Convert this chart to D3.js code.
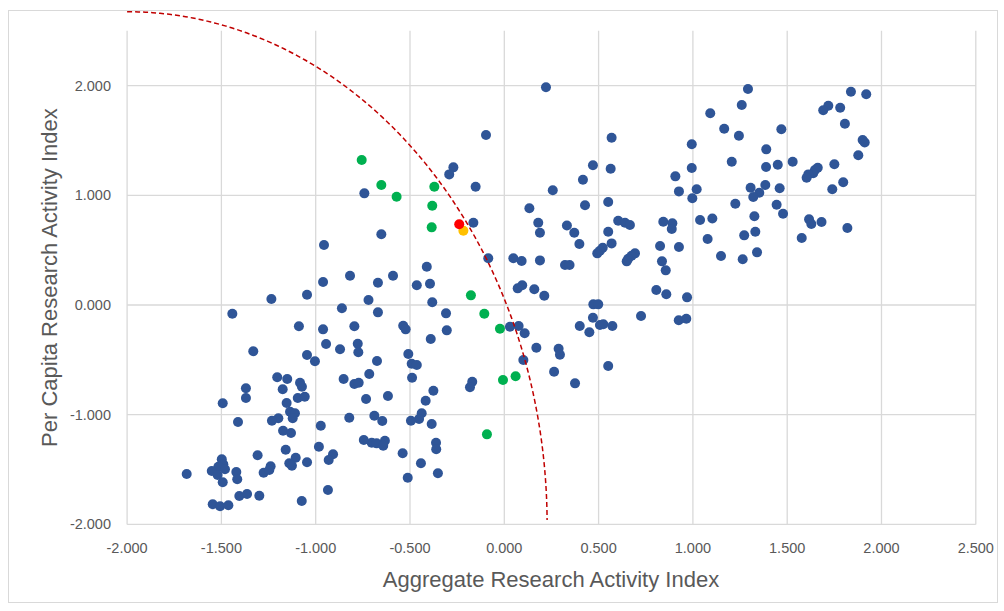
<!DOCTYPE html>
<html>
<head>
<meta charset="utf-8">
<script src="https://cdn.jsdelivr.net/npm/d3@7"></script>
<style>
  body { margin: 0; background: #fff; }
  text { font-family: "Liberation Sans", Arial, sans-serif; fill: #595959; }
</style>
</head>
<body>
<svg id="chart" width="1004" height="611"></svg>
<script>
// main population, [aggregate index, per capita index]
const bluePoints = [
  [-0.742, 1.018], [0.221, 1.985], [-0.097, 1.550], [-0.270, 1.255], [-0.292, 1.191],
  [-0.152, 1.078], [0.257, 1.046], [0.133, 0.882], [1.292, 1.969], [1.259, 1.823],
  [1.092, 1.748], [1.166, 1.607], [1.244, 1.543], [0.569, 1.525], [0.994, 1.465],
  [1.389, 1.419], [1.206, 1.306], [0.470, 1.274], [0.564, 1.243], [0.994, 1.249],
  [1.388, 1.258], [0.417, 1.142], [0.907, 1.173], [0.926, 1.036], [1.020, 1.055],
  [1.306, 1.069], [1.384, 1.094], [1.352, 1.024], [1.320, 0.985], [0.997, 0.973],
  [0.428, 0.909], [0.551, 0.939], [1.225, 0.923], [1.326, 0.809], [0.604, 0.768],
  [0.640, 0.750], [0.843, 0.759], [1.038, 0.775], [1.103, 0.789], [1.838, 1.944],
  [1.919, 1.921], [1.718, 1.817], [1.691, 1.775], [1.781, 1.799], [1.806, 1.653],
  [1.469, 1.602], [1.900, 1.504], [1.911, 1.481], [1.877, 1.365], [1.529, 1.306],
  [1.450, 1.279], [1.750, 1.283], [1.662, 1.252], [1.647, 1.231], [1.638, 1.201],
  [1.612, 1.191], [1.603, 1.160], [1.797, 1.119], [1.739, 1.055], [1.460, 1.064],
  [1.444, 0.914], [1.478, 0.832], [1.616, 0.781], [1.682, 0.757], [1.628, 0.738],
  [1.819, 0.702], [1.577, 0.611], [0.332, 0.725], [0.371, 0.659], [0.398, 0.556],
  [0.666, 0.729], [0.551, 0.668], [0.569, 0.562], [0.522, 0.522], [0.507, 0.495],
  [0.493, 0.471], [0.693, 0.471], [0.675, 0.449], [0.657, 0.422], [0.649, 0.398],
  [0.891, 0.745], [0.888, 0.693], [0.826, 0.538], [0.926, 0.529], [0.836, 0.398],
  [0.856, 0.316], [1.078, 0.602], [1.272, 0.635], [1.331, 0.668], [1.149, 0.447],
  [1.264, 0.417], [1.340, 0.480], [0.806, 0.137], [0.859, 0.098], [0.969, 0.070],
  [0.472, 0.006], [0.498, 0.006], [0.470, -0.116], [0.400, -0.191], [0.451, -0.249],
  [0.507, -0.182], [0.525, -0.176], [0.573, -0.191], [0.725, -0.100], [0.925, -0.139],
  [0.965, -0.125], [0.551, -0.556], [0.375, -0.714], [-0.652, 0.645], [-0.164, 0.750],
  [0.180, 0.750], [0.189, 0.659], [-0.085, 0.426], [0.048, 0.426], [0.092, 0.401],
  [0.189, 0.407], [0.322, 0.365], [0.346, 0.365], [-0.411, 0.349], [-0.590, 0.267],
  [-0.670, 0.203], [-0.464, 0.180], [-0.394, 0.194], [-0.720, 0.046], [-0.382, 0.025],
  [0.071, 0.152], [0.095, 0.180], [0.159, 0.143], [0.212, 0.085], [-0.670, -0.067],
  [-0.309, -0.076], [-0.536, -0.189], [-0.523, -0.222], [-0.305, -0.231], [0.030, -0.198],
  [0.076, -0.191], [0.108, -0.258], [-0.390, -0.310], [0.170, -0.389], [0.288, -0.398],
  [0.295, -0.453], [-0.509, -0.447], [-0.675, -0.510], [-0.491, -0.535], [-0.464, -0.547],
  [0.101, -0.501], [0.264, -0.608], [-0.716, -0.629], [-0.489, -0.663], [-0.170, -0.699],
  [-0.182, -0.750], [-0.617, -0.830], [-0.376, -0.781], [-0.417, -0.872], [-0.689, -1.009],
  [-0.647, -1.057], [-0.438, -0.987], [-0.452, -1.039], [-0.495, -1.055], [-0.385, -1.085],
  [-0.703, -1.255], [-0.677, -1.261], [-0.633, -1.237], [-0.642, -1.283], [-0.362, -1.255],
  [-0.361, -1.315], [-0.539, -1.352], [-0.442, -1.443], [-0.512, -1.574], [-0.352, -1.534],
  [-1.204, -0.659], [-1.151, -0.675], [-1.083, -0.708], [-1.073, -0.745], [-1.175, -0.768],
  [-1.370, -0.759], [-1.370, -0.848], [-1.095, -0.848], [-1.058, -0.836], [-1.493, -0.896],
  [-1.154, -0.893], [-0.852, -0.675], [-0.795, -0.720], [-0.772, -0.708], [-0.733, -0.857],
  [-1.136, -0.973], [-1.110, -0.987], [-1.122, -1.033], [-1.198, -1.033], [-1.232, -1.055],
  [-1.412, -1.067], [-0.822, -1.027], [-0.973, -1.100], [-1.173, -1.146], [-1.131, -1.167],
  [-0.745, -1.231], [-0.983, -1.292], [-1.159, -1.319], [-1.308, -1.370], [-0.908, -1.361],
  [-0.931, -1.413], [-1.106, -1.392], [-1.140, -1.443], [-1.126, -1.465], [-1.046, -1.434],
  [-1.498, -1.407], [-1.490, -1.452], [-1.516, -1.474], [-1.551, -1.513], [-1.520, -1.550],
  [-1.481, -1.498], [-1.684, -1.541], [-1.421, -1.522], [-1.416, -1.589], [-1.493, -1.616],
  [-1.276, -1.529], [-1.239, -1.470], [-1.246, -1.504], [-0.935, -1.686], [-1.074, -1.787],
  [-1.405, -1.741], [-1.364, -1.723], [-1.299, -1.738], [-1.546, -1.817], [-1.507, -1.835],
  [-1.463, -1.826], [-0.956, 0.547], [-0.818, 0.267], [-0.961, 0.210], [-1.046, 0.094],
  [-1.235, 0.055], [-1.442, -0.079], [-0.861, -0.030], [-1.089, -0.194], [-0.961, -0.222],
  [-0.795, -0.194], [-0.945, -0.356], [-0.871, -0.404], [-0.777, -0.353], [-0.774, -0.431],
  [-1.331, -0.422], [-1.046, -0.456], [-1.004, -0.513]
];

const greenPoints = [
  [-0.756, 1.322], [-0.652, 1.094], [-0.571, 0.987], [-0.371, 1.078], [-0.382, 0.905],
  [-0.385, 0.708], [-0.177, 0.088], [-0.106, -0.079], [-0.023, -0.216], [-0.007, -0.684],
  [0.060, -0.650], [-0.092, -1.179]
];
const orangePoints = [[-0.217, 0.677]];
const redPoints = [[-0.239, 0.736]];

const xTicks = [-2, -1.5, -1, -0.5, 0, 0.5, 1, 1.5, 2, 2.5];
const yTicks = [-2, -1, 0, 1, 2];

// dashed quarter ellipse, centre and radii in data units
const arcCentre = [-2, -2];
const arcRadii = [2.227, 4.674];
const arcAngles = [90, 0.5];

const svg = d3.select('#chart');

const x = d3.scaleLinear().domain([-2, 2.5]).range([127.1, 975.8]);
const y = d3.scaleLinear().domain([-2, 2.5]).range([524.4, 30.8]);

svg.append('rect')
    .attr('x', 8.5).attr('y', 10.5)
    .attr('width', 989).attr('height', 592)
    .attr('fill', 'none')
    .attr('stroke', '#d9d9d9');

// gridlines
svg.append('g')
    .selectAll('line')
    .data(xTicks)
    .enter()
    .append('line')
    .attr('x1', d => x(d)).attr('x2', d => x(d))
    .attr('y1', y(2.5)).attr('y2', y(-2))
    .attr('stroke', '#d9d9d9')
    .attr('stroke-width', 1.3);

svg.append('g')
    .selectAll('line')
    .data(yTicks)
    .enter()
    .append('line')
    .attr('x1', x(-2)).attr('x2', x(2.5))
    .attr('y1', d => y(d)).attr('y2', d => y(d))
    .attr('stroke', '#d9d9d9')
    .attr('stroke-width', 1.3);

// tick labels, plain hyphen for the minus like the original
const fmt = d => d3.format('.3f')(d).replace('\u2212', '-');

svg.append('g')
    .selectAll('text')
    .data(xTicks)
    .enter()
    .append('text')
    .attr('x', d => x(d))
    .attr('y', 553)
    .attr('text-anchor', 'middle')
    .style('font-size', '14.5px')
    .text(fmt);

svg.append('g')
    .selectAll('text')
    .data(yTicks)
    .enter()
    .append('text')
    .attr('x', 111)
    .attr('y', d => y(d) + 5)
    .attr('text-anchor', 'end')
    .style('font-size', '14.5px')
    .text(fmt);

// axis titles
svg.append('text')
    .attr('x', 551)
    .attr('y', 587)
    .attr('text-anchor', 'middle')
    .style('font-size', '22px')
    .text('Aggregate Research Activity Index');

svg.append('text')
    .attr('transform', `translate(57, ${(y(2.5) + y(-2)) / 2}) rotate(-90)`)
    .attr('text-anchor', 'middle')
    .style('font-size', '22px')
    .text('Per Capita Research Activity Index');

function drawDots(pts, colour) {
    svg.append('g')
        .selectAll('circle')
        .data(pts)
        .enter()
        .append('circle')
        .attr('cx', d => x(d[0]))
        .attr('cy', d => y(d[1]))
        .attr('r', 5)
        .attr('fill', colour);
}

drawDots(bluePoints, '#2f5597');
drawDots(greenPoints, '#00b050');
drawDots(orangePoints, '#ffc000');
drawDots(redPoints, '#ff0000');

// the dashed arc
const angles = d3.range(arcAngles[0], arcAngles[1] - 0.25, -0.5);
const arcLine = d3.line()
    .x(a => x(arcCentre[0] + arcRadii[0] * Math.cos(a * Math.PI / 180)))
    .y(a => y(arcCentre[1] + arcRadii[1] * Math.sin(a * Math.PI / 180)));

svg.append('path')
    .attr('d', arcLine(angles))
    .attr('fill', 'none')
    .attr('stroke', '#c00000')
    .attr('stroke-width', 1.5)
    .attr('stroke-dasharray', '5,3');
</script>
</body>
</html>
